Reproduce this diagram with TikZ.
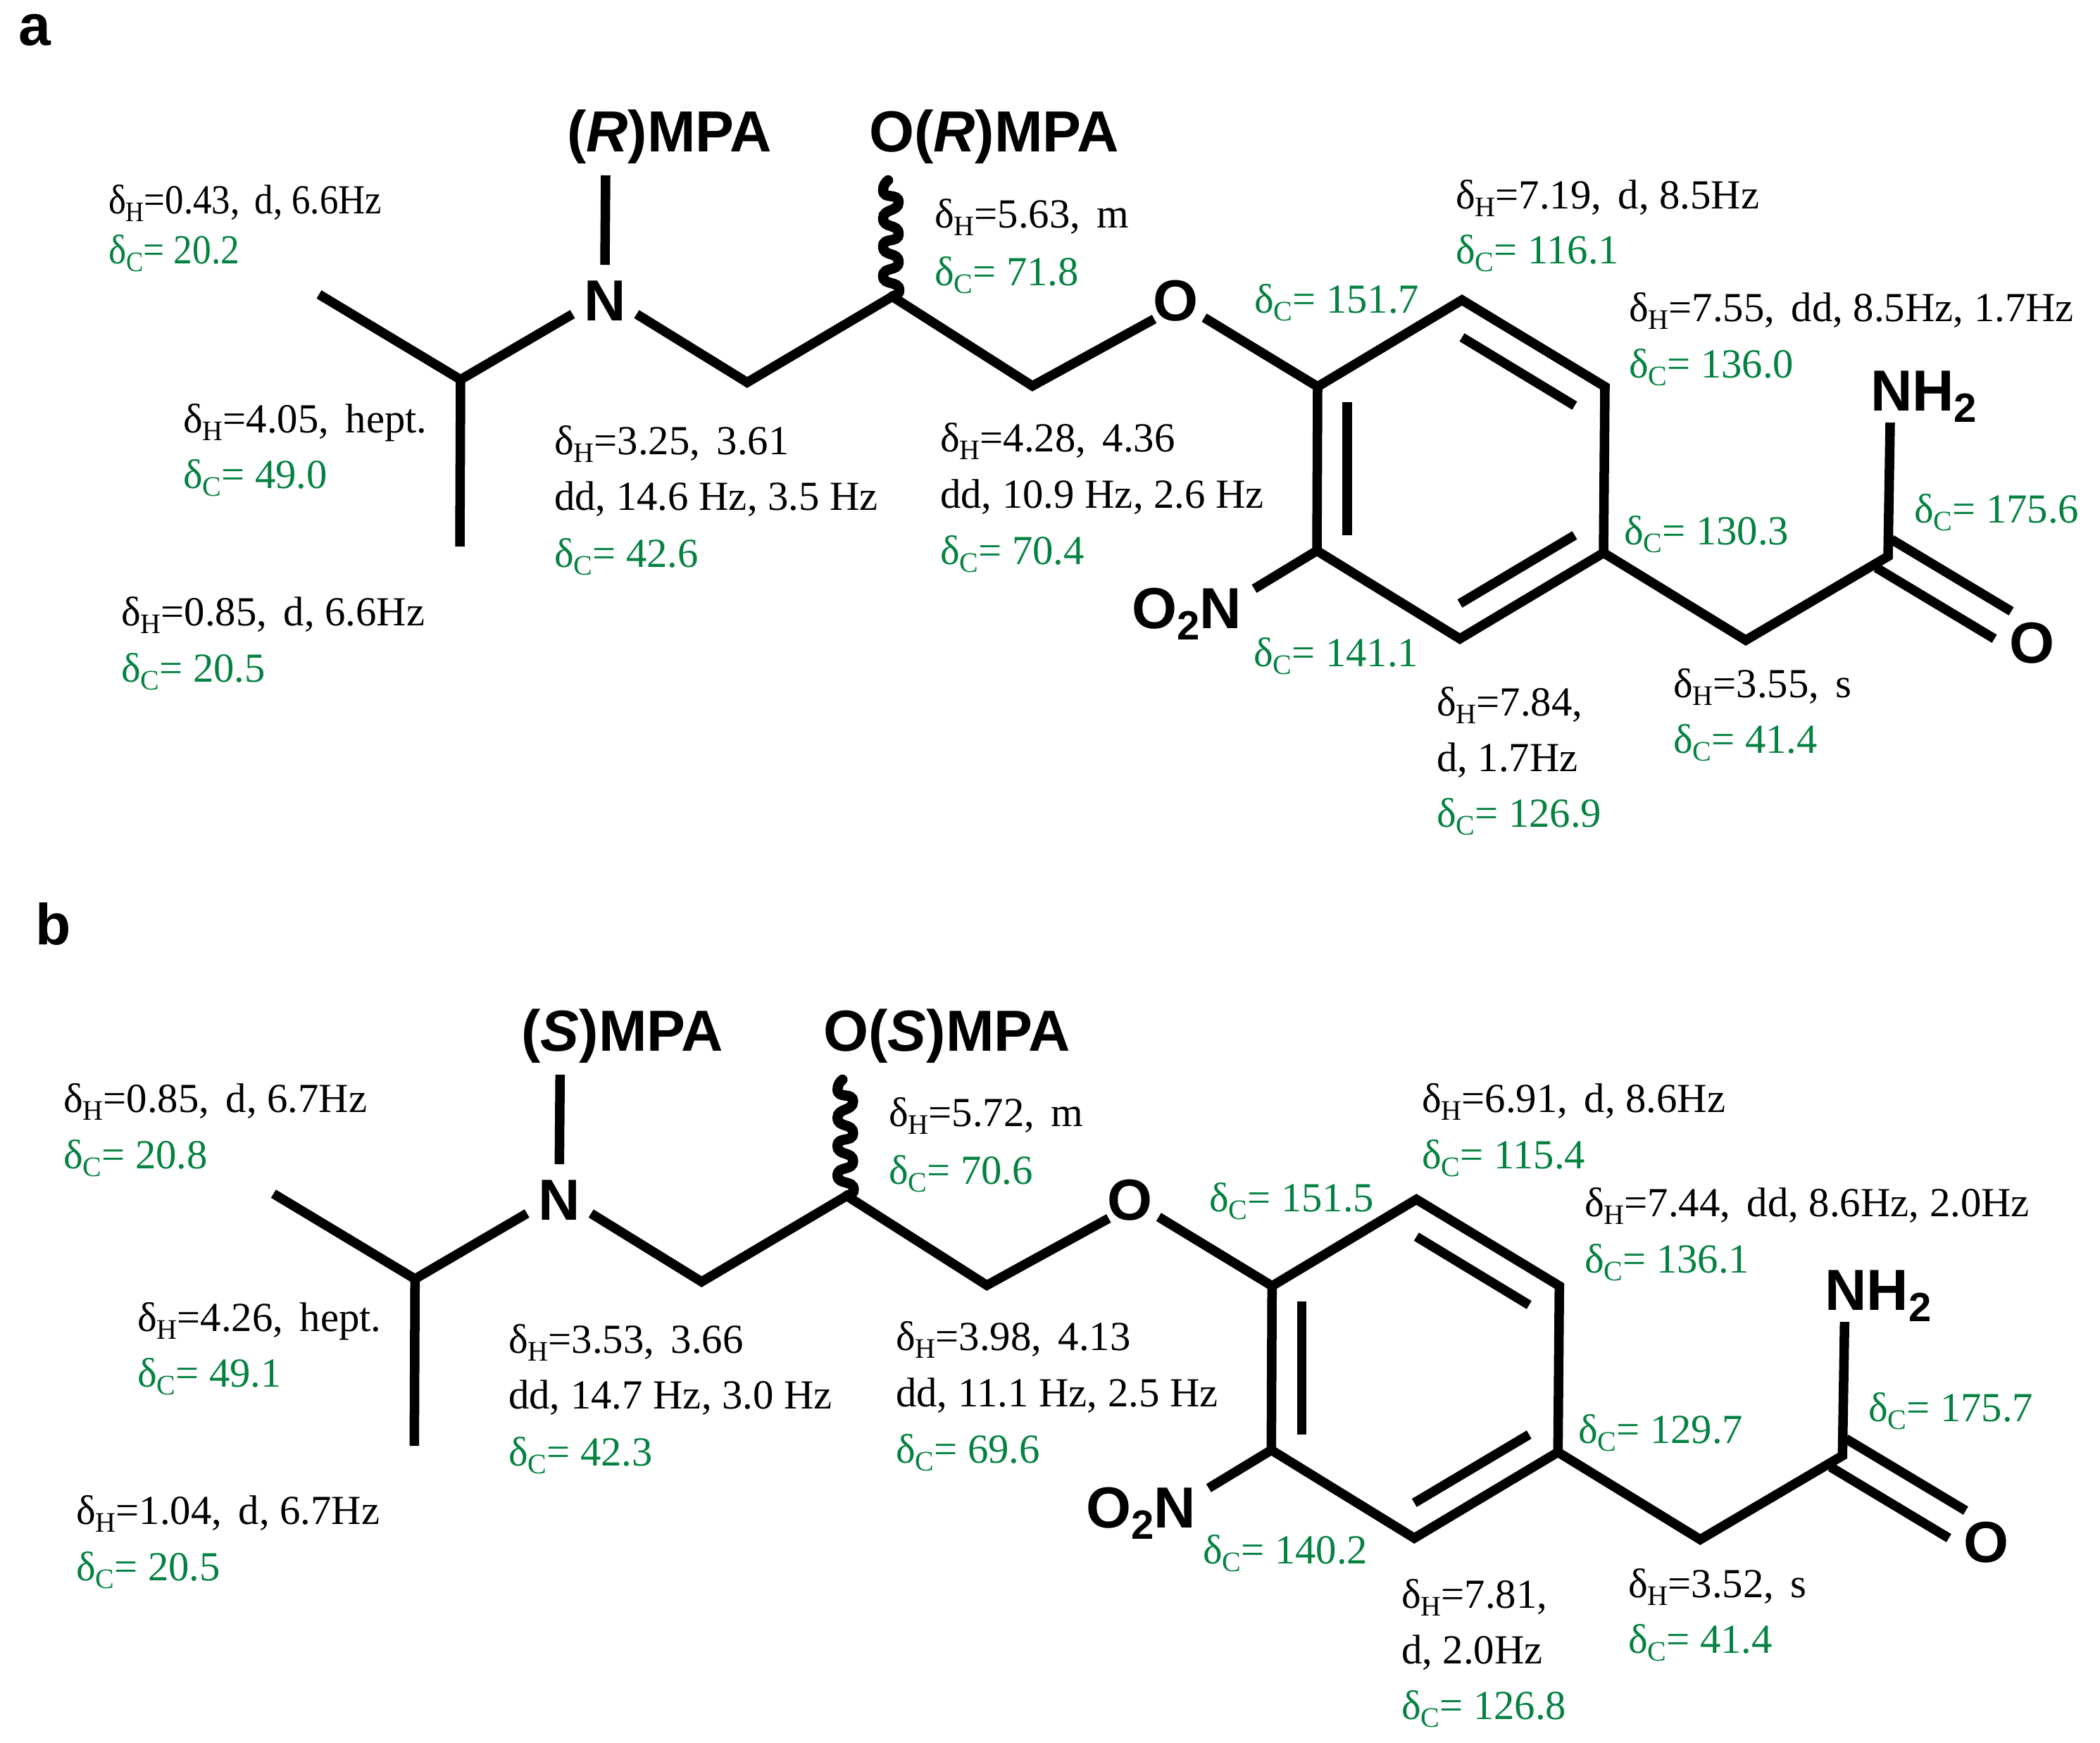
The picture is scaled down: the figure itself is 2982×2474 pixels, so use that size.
\documentclass[tikz,border=0pt]{standalone}
\usepackage{fontspec}
\setmainfont{Liberation Serif}
\setsansfont{Liberation Sans}
\definecolor{shiftgreen}{RGB}{5,130,65}
\newcommand\subs[1]{\raisebox{-3.3pt}{\fontsize{11.4}{12}\selectfont #1}}
\newcommand\dH{δ\subs{H}}
\newcommand\dC{δ\subs{C}}
\newcommand\subb[1]{\raisebox{-4.6pt}{\fontsize{16.5}{18}\selectfont #1}}
\newcommand\narrow[2]{\scalebox{#1}[1]{#2}}
\newcommand\gapp{\hspace{0.4em}}
\tikzset{
  x=0.01cm,y=-0.01cm,
  bond/.style={line width=0.135cm,line cap=butt,line join=miter,black},
  wavy/.style={line width=0.145cm,line cap=round,black},
  hlab/.style={anchor=base west,inner sep=0pt,outer sep=0pt,text=black,font=\fontsize{16.7}{20}\selectfont},
  clab/.style={hlab,text=shiftgreen},
  atomlab/.style={anchor=base west,inner sep=0pt,outer sep=0pt,font=\sffamily\bfseries\fontsize{23.4}{26}\selectfont},
  panellab/.style={atomlab}
}
\newcommand\molecule{%
  \coordinate (me1) at (453,418);
  \coordinate (ch) at (654,539);
  \coordinate (me2) at (653,776);
  \coordinate (nl) at (813,446);
  \coordinate (nr) at (904,446);
  \coordinate (nu) at (859,376);
  \coordinate (nt) at (860,249);
  \coordinate (c1) at (1061,543);
  \coordinate (c2) at (1267,421);
  \coordinate (c3) at (1466,548);
  \coordinate (ol) at (1639,453);
  \coordinate (or) at (1710,451);
  \coordinate (r1) at (1871,549);
  \coordinate (r2) at (2076,426);
  \coordinate (r3) at (2279,549);
  \coordinate (r4) at (2277,785);
  \coordinate (r5) at (2073,907);
  \coordinate (r6) at (1870,782);
  \coordinate (no) at (1781,836);
  \coordinate (c4) at (2479,909);
  \coordinate (c5) at (2681,790);
  \coordinate (nh) at (2684,600);
  \node[atomlab] (N) at (829,455) {N};
  \node[atomlab] (Oa) at (1637,455) {O};
  \node[atomlab] (Ob) at (2853,941) {O};
  \node[atomlab] (NH) at (2656,583) {NH\subb{2}};
  \node[atomlab] (NO) at (1607,892) {O\subb{2}N};
  \draw[bond] (me1) -- (ch) -- (nl);
  \draw[bond] (ch) -- (me2);
  \draw[bond] (nu) -- (nt);
  \draw[bond] (nr) -- (c1) -- (c2) -- (c3) -- (ol);
  \draw[bond] (or) -- (r1);
  \draw[bond] (r1) -- (r2) -- (r3) -- (r4) -- (r5) -- (r6) -- cycle;
  \draw[bond] (r6) -- (no);
  \draw[bond] (1913,571) -- (1913,760);
  \draw[bond] (2076,479) -- (2236,576);
  \draw[bond] (2236,760) -- (2073,857);
  \draw[bond] (r4) -- (c4) -- (c5) -- (nh);
  \draw[bond] (2686,766) -- (2856,868);
  \draw[bond] (2664,806) -- (2832,907);
  \draw[wavy] (c2) .. controls (1274,419) and (1277,417) .. (1277,412)
      .. controls (1277,398) and (1254,406) .. (1254,392)
      .. controls (1254,378) and (1276,386) .. (1276,372)
      .. controls (1276,357) and (1254,365) .. (1254,350)
      .. controls (1254,336) and (1276,346) .. (1276,332)
      .. controls (1276,317) and (1254,325) .. (1254,310)
      .. controls (1254,296) and (1276,301) .. (1276,287)
      .. controls (1276,273) and (1254,284) .. (1254,270)
      .. controls (1254,264) and (1257,259) .. (1261,256);
}
\begin{document}
\begin{tikzpicture}
\useasboundingbox (0,0) rectangle (2982,2474);
\begin{scope}[name prefix=a-]
  \molecule
  \node[atomlab] (rmpa) at (805,215) {(\textit{R})MPA};
  \node[atomlab] (ormpa) at (1234,215) {O(\textit{R})MPA};
\end{scope}
\begin{scope}[shift={(-64.7,1277)},name prefix=b-]
  \molecule
  \node[atomlab] (smpa) at (805,215) {(\textit{S})MPA};
  \node[atomlab] (osmpa) at (1234,215) {O(\textit{S})MPA};
\end{scope}
\node[panellab] (pa) at (27,64) {a};
\node[panellab] (pb) at (51,1341) {b};
% panel a labels
\node[hlab] (a1) at (154,303) {\narrow{0.90}{\dH=0.43,\gapp d, 6.6Hz}};
\node[clab] (a2) at (154,374) {\narrow{0.91}{\dC= 20.2}};
\node[hlab] (a3) at (260,614) {\dH=4.05,\gapp hept.};
\node[clab] (a4) at (260,693) {\dC= 49.0};
\node[hlab] (a5) at (787,645) {\dH=3.25,\gapp 3.61};
\node[hlab] (a6) at (787,724) {dd, 14.6 Hz, 3.5 Hz};
\node[clab] (a7) at (787,805) {\dC= 42.6};
\node[hlab] (a8) at (172,888) {\dH=0.85,\gapp d, 6.6Hz};
\node[clab] (a9) at (172,968) {\dC= 20.5};
\node[hlab] (a10) at (1327,323) {\dH=5.63,\gapp m};
\node[clab] (a11) at (1327,405) {\dC= 71.8};
\node[hlab] (a12) at (1335,641) {\dH=4.28,\gapp 4.36};
\node[hlab] (a13) at (1335,721) {dd, 10.9 Hz, 2.6 Hz};
\node[clab] (a14) at (1335,801) {\dC= 70.4};
\node[clab] (a15) at (1781,444) {\dC= 151.7};
\node[hlab] (a16) at (2067,296) {\dH=7.19,\gapp d, 8.5Hz};
\node[clab] (a17) at (2067,374) {\dC= 116.1};
\node[hlab] (a18) at (2313,456) {\dH=7.55,\gapp dd, 8.5Hz, 1.7Hz};
\node[clab] (a19) at (2313,536) {\dC= 136.0};
\node[clab] (a20) at (2718,742) {\dC= 175.6};
\node[clab] (a21) at (2306,773) {\dC= 130.3};
\node[clab] (a22) at (1780,946) {\dC= 141.1};
\node[hlab] (a23) at (2040,1016) {\dH=7.84,};
\node[hlab] (a24) at (2040,1095) {d, 1.7Hz};
\node[clab] (a25) at (2040,1174) {\dC= 126.9};
\node[hlab] (a26) at (2376,990) {\dH=3.55,\gapp s};
\node[clab] (a27) at (2376,1069) {\dC= 41.4};
% panel b labels
\begin{scope}[shift={(0,2)}]
\node[hlab] (b1) at (90,1577) {\dH=0.85,\gapp d, 6.7Hz};
\node[clab] (b2) at (90,1657) {\dC= 20.8};
\node[hlab] (b3) at (195,1888) {\dH=4.26,\gapp hept.};
\node[clab] (b4) at (195,1967) {\dC= 49.1};
\node[hlab] (b5) at (722,1919) {\dH=3.53,\gapp 3.66};
\node[hlab] (b6) at (722,1998) {dd, 14.7 Hz, 3.0 Hz};
\node[clab] (b7) at (722,2079) {\dC= 42.3};
\node[hlab] (b8) at (108,2162) {\dH=1.04,\gapp d, 6.7Hz};
\node[clab] (b9) at (108,2242) {\dC= 20.5};
\node[hlab] (b10) at (1262,1597) {\dH=5.72,\gapp m};
\node[clab] (b11) at (1262,1679) {\dC= 70.6};
\node[hlab] (b12) at (1272,1915) {\dH=3.98,\gapp 4.13};
\node[hlab] (b13) at (1272,1995) {dd, 11.1 Hz, 2.5 Hz};
\node[clab] (b14) at (1272,2075) {\dC= 69.6};
\node[clab] (b15) at (1717,1718) {\dC= 151.5};
\node[hlab] (b16) at (2019,1577) {\dH=6.91,\gapp d, 8.6Hz};
\node[clab] (b17) at (2019,1657) {\dC= 115.4};
\node[hlab] (b18) at (2250,1725) {\dH=7.44,\gapp dd, 8.6Hz, 2.0Hz};
\node[clab] (b19) at (2250,1805) {\dC= 136.1};
\node[clab] (b20) at (2653,2016) {\dC= 175.7};
\node[clab] (b21) at (2241,2047) {\dC= 129.7};
\node[clab] (b22) at (1708,2218) {\dC= 140.2};
\node[hlab] (b23) at (1990,2281) {\dH=7.81,};
\node[hlab] (b24) at (1990,2360) {d, 2.0Hz};
\node[clab] (b25) at (1990,2439) {\dC= 126.8};
\node[hlab] (b26) at (2312,2266) {\dH=3.52,\gapp s};
\node[clab] (b27) at (2312,2345) {\dC= 41.4};
\end{scope}
\end{tikzpicture}
\end{document}
